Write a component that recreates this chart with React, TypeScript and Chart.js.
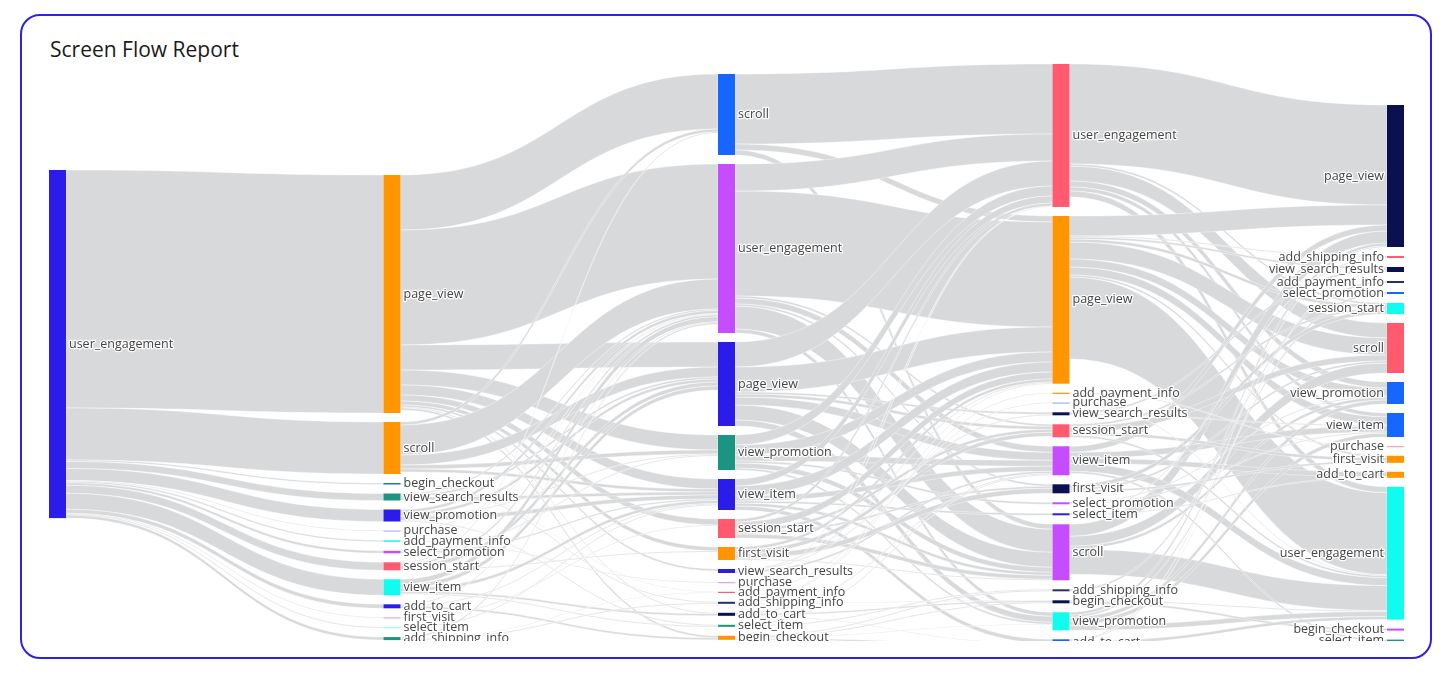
import React, { useEffect, useRef } from "react";
import { Chart, registerables } from "chart.js";

Chart.register(...registerables);

// ---------- DATA ----------
const title = "Screen Flow Report";

const col0Nodes = ["user_engagement"];
const col1Nodes = ["page_view", "scroll", "begin_checkout", "view_search_results", "view_promotion", "purchase", "add_payment_info", "select_promotion", "session_start", "view_item", "add_to_cart", "first_visit", "select_item", "add_shipping_info"];
const col2Nodes = ["scroll", "user_engagement", "page_view", "view_promotion", "view_item", "session_start", "first_visit", "view_search_results", "purchase", "add_payment_info", "add_shipping_info", "add_to_cart", "select_item", "begin_checkout"];
const col3Nodes = ["user_engagement", "page_view", "add_payment_info", "purchase", "view_search_results", "session_start", "view_item", "first_visit", "select_promotion", "select_item", "scroll", "add_shipping_info", "begin_checkout", "view_promotion", "add_to_cart"];
const col4Nodes = ["page_view", "add_shipping_info", "view_search_results", "add_payment_info", "select_promotion", "session_start", "scroll", "view_promotion", "view_item", "purchase", "first_visit", "add_to_cart", "user_engagement", "begin_checkout", "select_item"];

// step 1 -> step 2 (all from user_engagement)
const step1Values = [2380, 520, 15, 70, 120, 8, 15, 25, 80, 160, 40, 8, 10, 30];

const links12: [string, string, number][] = [
  ["page_view", "scroll", 550], ["page_view", "user_engagement", 1150], ["page_view", "page_view", 250], ["page_view", "view_promotion", 150], ["page_view", "view_item", 100], ["page_view", "session_start", 60], ["page_view", "first_visit", 40], ["page_view", "view_search_results", 20], ["page_view", "add_to_cart", 10], ["page_view", "begin_checkout", 20],
  ["scroll", "user_engagement", 300], ["scroll", "page_view", 100], ["scroll", "view_promotion", 40], ["scroll", "view_item", 30], ["scroll", "scroll", 30],
  ["begin_checkout", "add_payment_info", 5], ["begin_checkout", "add_shipping_info", 10],
  ["view_search_results", "view_item", 30], ["view_search_results", "page_view", 20], ["view_search_results", "user_engagement", 15],
  ["view_promotion", "view_item", 40], ["view_promotion", "page_view", 30], ["view_promotion", "user_engagement", 30], ["view_promotion", "select_item", 10], ["view_promotion", "view_promotion", 10],
  ["purchase", "user_engagement", 8],
  ["add_payment_info", "purchase", 8], ["add_payment_info", "user_engagement", 5],
  ["select_promotion", "view_item", 15], ["select_promotion", "view_promotion", 10],
  ["session_start", "page_view", 40], ["session_start", "user_engagement", 20], ["session_start", "scroll", 10], ["session_start", "first_visit", 10],
  ["view_item", "add_to_cart", 20], ["view_item", "user_engagement", 50], ["view_item", "page_view", 40], ["view_item", "view_item", 30], ["view_item", "select_item", 10],
  ["add_to_cart", "begin_checkout", 20], ["add_to_cart", "user_engagement", 10], ["add_to_cart", "view_item", 10],
  ["first_visit", "session_start", 8],
  ["select_item", "view_item", 10],
  ["add_shipping_info", "add_payment_info", 5], ["add_shipping_info", "user_engagement", 15], ["add_shipping_info", "add_shipping_info", 10],
];

const links23: [string, string, number][] = [
  ["scroll", "user_engagement", 700], ["scroll", "page_view", 60], ["scroll", "scroll", 50],
  ["user_engagement", "page_view", 1050], ["user_engagement", "user_engagement", 270], ["user_engagement", "scroll", 230], ["user_engagement", "view_item", 60], ["user_engagement", "view_promotion", 40], ["user_engagement", "session_start", 20], ["user_engagement", "first_visit", 20],
  ["page_view", "user_engagement", 250], ["page_view", "page_view", 250], ["page_view", "scroll", 150], ["page_view", "view_item", 80], ["page_view", "view_promotion", 60], ["page_view", "session_start", 30], ["page_view", "view_search_results", 20],
  ["view_promotion", "user_engagement", 100], ["view_promotion", "page_view", 100], ["view_promotion", "view_item", 60], ["view_promotion", "scroll", 50], ["view_promotion", "select_promotion", 20], ["view_promotion", "view_promotion", 20],
  ["view_item", "page_view", 100], ["view_item", "user_engagement", 70], ["view_item", "add_to_cart", 40], ["view_item", "view_item", 50], ["view_item", "scroll", 30], ["view_item", "select_item", 20],
  ["session_start", "page_view", 70], ["session_start", "scroll", 40], ["session_start", "user_engagement", 30], ["session_start", "session_start", 30], ["session_start", "first_visit", 20],
  ["first_visit", "session_start", 40], ["first_visit", "page_view", 30], ["first_visit", "first_visit", 50], ["first_visit", "scroll", 10],
  ["view_search_results", "view_item", 20], ["view_search_results", "view_search_results", 10], ["view_search_results", "page_view", 10],
  ["purchase", "user_engagement", 8],
  ["add_payment_info", "purchase", 8], ["add_payment_info", "user_engagement", 2],
  ["add_shipping_info", "add_payment_info", 8], ["add_shipping_info", "begin_checkout", 5], ["add_shipping_info", "page_view", 7],
  ["add_to_cart", "begin_checkout", 15], ["add_to_cart", "view_item", 10], ["add_to_cart", "add_to_cart", 5],
  ["select_item", "view_item", 10], ["select_item", "add_shipping_info", 10],
  ["begin_checkout", "add_shipping_info", 10], ["begin_checkout", "begin_checkout", 10], ["begin_checkout", "add_to_cart", 15], ["begin_checkout", "view_promotion", 5],
];

const links34: [string, string, number][] = [
  ["user_engagement", "page_view", 1000], ["user_engagement", "scroll", 150], ["user_engagement", "view_promotion", 60], ["user_engagement", "view_item", 40], ["user_engagement", "session_start", 20], ["user_engagement", "user_engagement", 60],
  ["page_view", "user_engagement", 820], ["page_view", "page_view", 200], ["page_view", "scroll", 170], ["page_view", "view_item", 80], ["page_view", "view_promotion", 80], ["page_view", "first_visit", 20], ["page_view", "session_start", 30], ["page_view", "view_search_results", 20], ["page_view", "add_shipping_info", 10],
  ["scroll", "user_engagement", 250], ["scroll", "page_view", 120], ["scroll", "scroll", 100], ["scroll", "view_promotion", 30],
  ["view_item", "add_to_cart", 50], ["view_item", "user_engagement", 80], ["view_item", "page_view", 60], ["view_item", "view_item", 60], ["view_item", "select_item", 20],
  ["view_promotion", "user_engagement", 50], ["view_promotion", "page_view", 30], ["view_promotion", "view_promotion", 40], ["view_promotion", "select_promotion", 20], ["view_promotion", "view_item", 40],
  ["session_start", "scroll", 60], ["session_start", "first_visit", 30], ["session_start", "session_start", 20], ["session_start", "user_engagement", 20],
  ["first_visit", "session_start", 40], ["first_visit", "first_visit", 20], ["first_visit", "scroll", 20],
  ["view_search_results", "view_search_results", 20], ["view_search_results", "view_item", 10],
  ["add_payment_info", "purchase", 8],
  ["purchase", "user_engagement", 8],
  ["select_promotion", "view_item", 10], ["select_promotion", "view_promotion", 10],
  ["select_item", "add_to_cart", 10], ["select_item", "add_shipping_info", 10],
  ["add_shipping_info", "add_payment_info", 20],
  ["begin_checkout", "begin_checkout", 20], ["begin_checkout", "user_engagement", 10],
  ["add_to_cart", "user_engagement", 30], ["add_to_cart", "view_search_results", 10], ["add_to_cart", "page_view", 10],
];

// ---------- STYLE ----------
const BLUE = "#2b1ce9";
const ORANGE = "#ff9500";
const AZURE = "#1766ff";
const TEAL = "#1c9482";
const VIOLET = "#c54cff";
const CORAL = "#ff5a6e";
const CYAN = "#0ffcef";
const NAVY = "#0b1150";
const SLATE = "#26306e";
const LAVENDER = "#b9b3ff";
const LILAC = "#e3a1ff";
const PALECYAN = "#8ffdf2";
const SKY = "#92b6ff";
const PINK = "#ffa3b5";

const col0Colors = [BLUE];
const col1Colors = [ORANGE, ORANGE, AZURE, TEAL, BLUE, LAVENDER, CYAN, VIOLET, CORAL, CYAN, BLUE, LILAC, PALECYAN, TEAL];
const col2Colors = [AZURE, VIOLET, BLUE, TEAL, BLUE, CORAL, ORANGE, BLUE, LILAC, CORAL, SLATE, NAVY, TEAL, ORANGE];
const col3Colors = [CORAL, ORANGE, ORANGE, SKY, NAVY, CORAL, VIOLET, NAVY, VIOLET, BLUE, VIOLET, SLATE, NAVY, CYAN, AZURE];
const col4Colors = [NAVY, CORAL, NAVY, SLATE, AZURE, CYAN, CORAL, AZURE, AZURE, PINK, ORANGE, ORANGE, CYAN, VIOLET, TEAL];

// layout (value units)
const columnStart = [1060, 1110, 100, 0, 410];
const NODE_PAD = 90;
const Y_MAX = 5760;
const NODE_WIDTH = 17;
const LINK_COLOR = "#d8d9db";
const LABEL_COLOR = "#444";
const FONT = "'Open Sans', sans-serif";

type SNode = { col: number; name: string; color: string; inV: number; outV: number; value: number; y0: number; y1: number; src: SLink[]; tgt: SLink[] };
type SLink = { s: SNode; t: SNode; v: number; sy: number; ty: number };

function buildGraph() {
  const cols = [col0Nodes, col1Nodes, col2Nodes, col3Nodes, col4Nodes];
  const colors = [col0Colors, col1Colors, col2Colors, col3Colors, col4Colors];
  const nodes: SNode[][] = cols.map((names, c) =>
    names.map((name, i) => ({ col: c, name, color: colors[c][i], inV: 0, outV: 0, value: 0, y0: 0, y1: 0, src: [], tgt: [] }))
  );
  const find = (c: number, n: string) => nodes[c].find((d) => d.name === n)!;
  const links: SLink[] = [];
  const add = (c: number, a: string, b: string, v: number) => {
    const s = find(c, a);
    const t = find(c + 1, b);
    const l = { s, t, v, sy: 0, ty: 0 };
    s.src.push(l);
    t.tgt.push(l);
    s.outV += v;
    t.inV += v;
    links.push(l);
  };
  col1Nodes.forEach((n, i) => add(0, "user_engagement", n, step1Values[i]));
  links12.forEach(([a, b, v]) => add(1, a, b, v));
  links23.forEach(([a, b, v]) => add(2, a, b, v));
  links34.forEach(([a, b, v]) => add(3, a, b, v));
  nodes.forEach((col, c) => {
    let y = columnStart[c];
    col.forEach((n) => {
      n.value = Math.max(n.inV, n.outV);
      n.y0 = y;
      n.y1 = y + n.value;
      y = n.y1 + NODE_PAD;
    });
  });
  nodes.flat().forEach((n) => {
    n.src.sort((a, b) => a.t.y0 - b.t.y0);
    n.tgt.sort((a, b) => a.s.y0 - b.s.y0);
    let y = n.y0;
    n.src.forEach((l) => { l.sy = y; y += l.v; });
    y = n.y0;
    n.tgt.forEach((l) => { l.ty = y; y += l.v; });
  });
  return { nodes, links };
}

const sankeyPlugin = {
  id: "sankeyDraw",
  afterDatasetsDraw(chart: any) {
    const { ctx } = chart;
    const xs = chart.scales.x;
    const ys = chart.scales.y;
    const { nodes, links } = buildGraph();
    const nCols = nodes.length;
    ctx.save();
    // links
    links.forEach((l) => {
      const x0 = xs.getPixelForValue(l.s.col) + NODE_WIDTH;
      const x1 = xs.getPixelForValue(l.t.col);
      const xm = (x0 + x1) / 2;
      const a0 = ys.getPixelForValue(l.sy);
      const a1 = ys.getPixelForValue(l.sy + l.v);
      const b0 = ys.getPixelForValue(l.ty);
      const b1 = ys.getPixelForValue(l.ty + l.v);
      ctx.beginPath();
      ctx.moveTo(x0, a0);
      ctx.bezierCurveTo(xm, a0, xm, b0, x1, b0);
      ctx.lineTo(x1, b1);
      ctx.bezierCurveTo(xm, b1, xm, a1, x0, a1);
      ctx.closePath();
      ctx.fillStyle = LINK_COLOR;
      ctx.fill();
      ctx.strokeStyle = "rgba(255,255,255,0.8)";
      ctx.lineWidth = 0.5;
      ctx.stroke();
    });
    // nodes
    nodes.flat().forEach((n) => {
      const x = xs.getPixelForValue(n.col);
      const top = ys.getPixelForValue(n.y0);
      let h = ys.getPixelForValue(n.y1) - top;
      if (h < 1.2) h = 1.2;
      ctx.fillStyle = n.color;
      ctx.fillRect(x, top, NODE_WIDTH, h);
    });
    // labels
    ctx.font = `12.5px ${FONT}`;
    ctx.textBaseline = "middle";
    ctx.lineJoin = "round";
    nodes.flat().forEach((n) => {
      const x = xs.getPixelForValue(n.col);
      const cy = (ys.getPixelForValue(n.y0) + ys.getPixelForValue(n.y1)) / 2;
      let tx: number;
      if (n.col === nCols - 1) {
        ctx.textAlign = "right";
        tx = x - 3;
      } else {
        ctx.textAlign = "left";
        tx = x + NODE_WIDTH + 3;
      }
      ctx.strokeStyle = "rgba(255,255,255,0.95)";
      ctx.lineWidth = 2.5;
      ctx.strokeText(n.name, tx, cy);
      ctx.fillStyle = LABEL_COLOR;
      ctx.fillText(n.name, tx, cy);
    });
    ctx.restore();
  },
};

export default function App() {
  const ref = useRef<HTMLCanvasElement | null>(null);
  useEffect(() => {
    if (!ref.current) return;
    const chart = new Chart(ref.current, {
      type: "scatter",
      data: { datasets: [] },
      options: {
        animation: false,
        responsive: true,
        maintainAspectRatio: false,
        events: [],
        layout: { padding: { left: 49, right: 64, top: 64, bottom: 1 } },
        plugins: { legend: { display: false }, tooltip: { enabled: false }, title: { display: false } },
        scales: {
          x: { type: "linear", min: 0, max: 4, display: false },
          y: { type: "linear", min: 0, max: Y_MAX, reverse: true, display: false },
        },
      },
      plugins: [sankeyPlugin],
    } as any);
    return () => chart.destroy();
  }, []);

  return (
    <div>
      <div
        style={{
          position: "absolute",
          left: 20,
          top: 14,
          width: 1412,
          height: 645,
          boxSizing: "border-box",
          border: "2px solid #2f21e4",
          borderRadius: 20,
          background: "#fff",
        }}
      />
      <div
        style={{
          position: "absolute",
          left: 50,
          top: 35,
          fontFamily: FONT,
          fontSize: 21,
          lineHeight: "28px",
          color: "#1a1a1a",
        }}
      >
        {title}
      </div>
      <div style={{ position: "absolute", left: 0, top: 0, width: 1451, height: 641 }}>
        <canvas ref={ref} />
      </div>
    </div>
  );
}
